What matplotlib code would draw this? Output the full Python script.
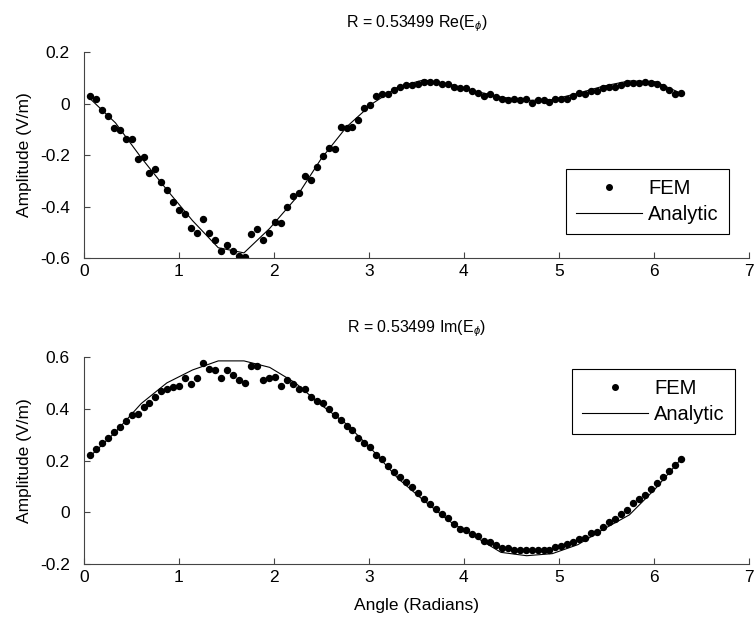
import numpy as np
import matplotlib
matplotlib.use('Agg')
import matplotlib.pyplot as plt

plt.rcParams['font.family'] = ['Liberation Sans', 'DejaVu Sans']
plt.rcParams['mathtext.fontset'] = 'custom'
plt.rcParams['mathtext.rm'] = 'Liberation Sans'
plt.rcParams['mathtext.it'] = 'Liberation Sans:italic'

# FEM sample angles (100 points up to 2*pi)
angle = np.linspace(2 * np.pi / 100, 2 * np.pi, 100)

re_fem = [0.029, 0.016, -0.025, -0.049, -0.096, -0.103, -0.138, -0.138, -0.214, -0.209,
          -0.269, -0.256, -0.305, -0.335, -0.383, -0.412, -0.430, -0.483, -0.502, -0.447,
          -0.502, -0.531, -0.573, -0.548, -0.573, -0.591, -0.596, -0.507, -0.489, -0.530,
          -0.502, -0.460, -0.465, -0.401, -0.358, -0.346, -0.280, -0.297, -0.245, -0.203,
          -0.174, -0.178, -0.090, -0.096, -0.090, -0.065, -0.019, -0.006, 0.029, 0.036,
          0.036, 0.052, 0.064, 0.071, 0.071, 0.077, 0.082, 0.083, 0.082, 0.077,
          0.077, 0.065, 0.059, 0.059, 0.047, 0.041, 0.030, 0.036, 0.024, 0.018,
          0.012, 0.018, 0.012, 0.016, 0.003, 0.012, 0.012, 0.005, 0.018, 0.018,
          0.018, 0.030, 0.042, 0.036, 0.047, 0.047, 0.059, 0.065, 0.065, 0.072,
          0.078, 0.078, 0.078, 0.083, 0.078, 0.077, 0.065, 0.053, 0.036, 0.042]

im_fem = [0.222, 0.246, 0.269, 0.287, 0.310, 0.329, 0.353, 0.376, 0.381, 0.406,
          0.424, 0.447, 0.470, 0.477, 0.483, 0.488, 0.518, 0.495, 0.518, 0.577,
          0.554, 0.548, 0.518, 0.548, 0.531, 0.513, 0.500, 0.566, 0.566, 0.511,
          0.518, 0.523, 0.488, 0.513, 0.495, 0.477, 0.477, 0.447, 0.429, 0.424,
          0.399, 0.375, 0.358, 0.334, 0.317, 0.286, 0.269, 0.251, 0.222, 0.204,
          0.180, 0.156, 0.138, 0.115, 0.098, 0.075, 0.050, 0.032, 0.014, -0.008,
          -0.022, -0.044, -0.063, -0.070, -0.085, -0.093, -0.111, -0.115, -0.128, -0.137,
          -0.140, -0.144, -0.147, -0.147, -0.147, -0.147, -0.147, -0.147, -0.134, -0.131,
          -0.121, -0.115, -0.102, -0.098, -0.082, -0.076, -0.057, -0.037, -0.028, -0.005,
          0.010, 0.036, 0.053, 0.068, 0.088, 0.113, 0.137, 0.158, 0.182, 0.204]

# analytic solution, coarser sampling
angle_an = np.linspace(2 * np.pi / 100, 2 * np.pi, 24)
re_an = [0.020, -0.075, -0.210, -0.335, -0.455, -0.560, -0.580, -0.485, -0.370, -0.215,
         -0.090, 0.000, 0.065, 0.092, 0.075, 0.048, 0.025, 0.012, 0.015, 0.040,
         0.068, 0.088, 0.085, 0.040]
im_an = [0.215, 0.310, 0.420, 0.500, 0.550, 0.585, 0.585, 0.560, 0.500, 0.415,
         0.340, 0.240, 0.130, 0.045, -0.035, -0.095, -0.155, -0.168, -0.160, -0.125,
         -0.065, -0.010, 0.090, 0.205]

titles = [r'R = 0.53499 Re(E$_{\phi}$)', r'R = 0.53499 Im(E$_{\phi}$)']
yticks = [[-0.6, -0.4, -0.2, 0, 0.2], [-0.2, 0, 0.2, 0.4, 0.6]]
ylims = [(-0.6, 0.2), (-0.2, 0.6)]
legend_loc = ['lower right', 'upper right']
legend_anchor = [(0.970, 0.1165), (0.979, 0.942)]

fig = plt.figure(figsize=(7.55, 6.21), dpi=100)
ax1 = fig.add_axes([0.111, 0.5845, 0.881, 0.3317])
ax2 = fig.add_axes([0.111, 0.0918, 0.881, 0.3333])

for i, (ax, fem, an) in enumerate([(ax1, re_fem, re_an), (ax2, im_fem, im_an)]):
    ax.plot(angle, fem, 'o', color='k', markersize=4.3, label='FEM')
    ax.plot(angle_an, an, '-', color='k', lw=0.8, label='Analytic')
    ax.set_xlim(0, 7)
    ax.set_ylim(*ylims[i])
    ax.set_xticks(range(8))
    ax.set_yticks(yticks[i])
    ax.set_yticklabels(['%g' % v for v in yticks[i]])
    ax.set_xticklabels([str(v) for v in range(8)])
    for s in ['top', 'right']:
        ax.spines[s].set_visible(False)
    for s in ['left', 'bottom']:
        ax.spines[s].set_color('#444444')
        ax.spines[s].set_linewidth(0.8)
    ax.tick_params(direction='in', length=4, color='#444444', labelsize=12.5)
    ax.tick_params(axis='y', pad=10)
    ax.tick_params(axis='x', pad=4)
    ax.set_ylabel('Amplitude (V/m)', fontsize=12.5, labelpad=6)
    ax.set_title(titles[i], fontsize=11.5, pad=18)
    leg = ax.legend(loc=legend_loc[i], bbox_to_anchor=legend_anchor[i], borderaxespad=0,
                    fontsize=14.5, fancybox=False, framealpha=1, edgecolor='k',
                    handlelength=3.3, handletextpad=0.3, borderpad=0.5, labelspacing=0.35)
    leg.get_frame().set_linewidth(0.8)
    leg.legend_handles[0].set_markersize(4)

ax2.set_xlabel('Angle (Radians)', fontsize=12.5, labelpad=10)

fig.savefig('out.png', dpi=100)
